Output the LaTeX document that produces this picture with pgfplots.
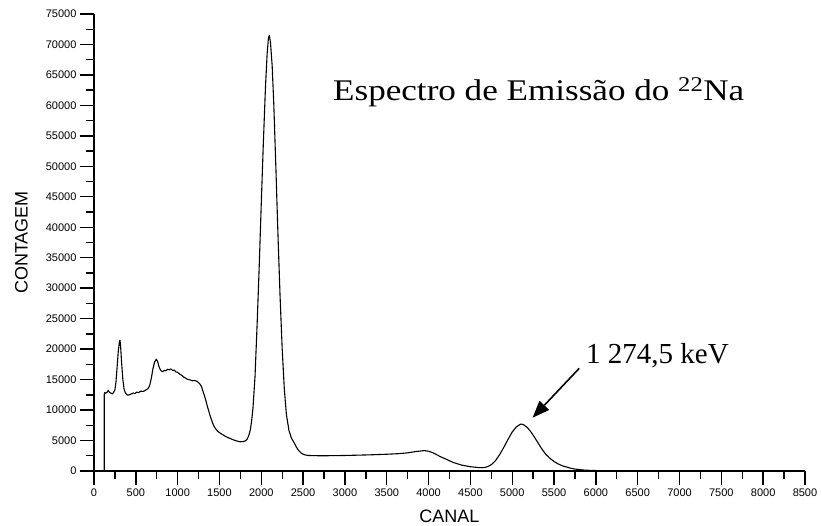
\documentclass[border=0pt]{standalone}
\usepackage{graphicx}
\usepackage{fontspec}
\setmainfont{Liberation Sans}
\newfontfamily\timesfont{Liberation Serif}
\usepackage{pgfplots}
\pgfplotsset{compat=1.18}
\usetikzlibrary{arrows.meta}
\begin{document}
\begin{tikzpicture}
\path[use as bounding box] (-94pt,-55pt) rectangle (728pt,471pt);
\begin{axis}[
  at={(0pt,0pt)}, anchor=south west,
  scale only axis, width=711pt, height=457pt,
  xmin=0, xmax=8500, ymin=0, ymax=75000,
  axis lines=left,
  axis line style={-, line width=1.4pt},
  every tick/.style={black, line width=1.4pt},
  tick align=outside,
  major tick length=14pt, minor tick length=8pt,
  xtick={0,500,...,8500}, ytick={0,5000,...,75000},
  minor tick num=1,
  scaled ticks=false,
  /pgf/number format/assume math mode=true,
  /pgf/number format/set thousands separator={},
  /pgf/number format/fixed,
  tick label style={font=\fontsize{11}{13}\selectfont},
  xlabel={CANAL}, ylabel={CONTAGEM},
  every axis x label/.style={at={(axis description cs:0.5,-0.0985)}, anchor=center, font=\fontsize{18}{20}\selectfont},
  every axis y label/.style={at={(axis description cs:-0.102,0.5)}, rotate=90, anchor=center, font=\fontsize{18}{20}\selectfont},
  clip=false,
]
\addplot[black, line width=1.1pt, line join=round] coordinates {
(123,0) (123,12600) (130,12900) (140,12750) (155,12900) (171,13250) (185,12900)
(200,12800) (219,12650) (235,12900) (250,13300) (262,14500) (275,16800) (290,19600)
(305,21300) (311,21450) (318,20500) (330,17800) (345,15000) (360,13400) (375,12800)
(395,12500) (410,12450) (430,12550) (450,12650) (470,12800) (490,12700) (510,12950)
(530,12850) (560,13100) (590,13050) (620,13300) (645,13500) (665,14000) (685,15200)
(705,16800) (725,17900) (745,18350) (760,18000) (775,17200) (790,16700) (805,16400)
(821,16300) (840,16500) (860,16450) (880,16700) (900,16600) (920,16750) (940,16500)
(960,16550) (980,16250) (1000,16200) (1025,15900) (1050,15700) (1075,15400) (1100,15200)
(1125,15000) (1150,14950) (1175,14800) (1200,14850) (1228,14750) (1250,14500) (1270,14200)
(1287,13800) (1300,13200) (1317,12500) (1335,11700) (1350,10900) (1370,9900) (1390,9000)
(1410,8200) (1427,7550) (1450,7000) (1480,6500) (1510,6200) (1546,5900) (1575,5650)
(1600,5500) (1650,5200) (1700,4950) (1745,4800) (1780,4820) (1810,4950) (1830,5200)
(1850,5800) (1870,6800) (1885,8300) (1900,10200) (1925,15500) (1950,24000) (1975,33500)
(2000,44000) (2025,54000) (2050,63000) (2070,68500) (2085,71000) (2096,71500) (2110,70300)
(2130,66500) (2150,60000) (2175,49500) (2200,38500) (2225,28500) (2250,20000) (2275,13500)
(2300,9300) (2330,6700) (2360,5400) (2390,4700) (2420,3900) (2450,3300) (2480,2900)
(2520,2650) (2560,2550) (2700,2500) (2900,2520) (3100,2580) (3300,2650) (3500,2750)
(3650,2850) (3750,2980) (3850,3200) (3950,3350) (4000,3250) (4050,3000) (4100,2650)
(4150,2300) (4200,2000) (4256,1640) (4300,1380) (4400,950) (4500,700) (4600,560)
(4640,540) (4680,600) (4720,800) (4760,1150) (4800,1700) (4850,2700) (4900,3900)
(4950,5200) (5000,6400) (5050,7250) (5100,7700) (5130,7650) (5180,7150) (5230,6300)
(5300,4800) (5350,3700) (5400,2750) (5451,2080) (5500,1550) (5550,1150) (5600,850)
(5651,650) (5700,450) (5750,320) (5850,160) (5950,90) (6100,40) (6300,15) (6600,5)
(7000,0) (8400,0)
};
\draw[line width=1.6pt, -{Triangle[length=17pt,width=13pt]}] (axis cs:5801,16850) -- (axis cs:5244,8750);
\node[anchor=base west, inner sep=0pt, font=\timesfont\fontsize{29}{32}\selectfont] at (axis cs:5882,17670) {1 274,5 keV};
\node[anchor=base west, inner sep=0pt, font=\timesfont\fontsize{30}{34}\selectfont] at (axis cs:2857,60880) {\scalebox{1.17}[1]{Espectro de Emissão do \textsuperscript{22}Na}};
\end{axis}
\end{tikzpicture}
\end{document}
